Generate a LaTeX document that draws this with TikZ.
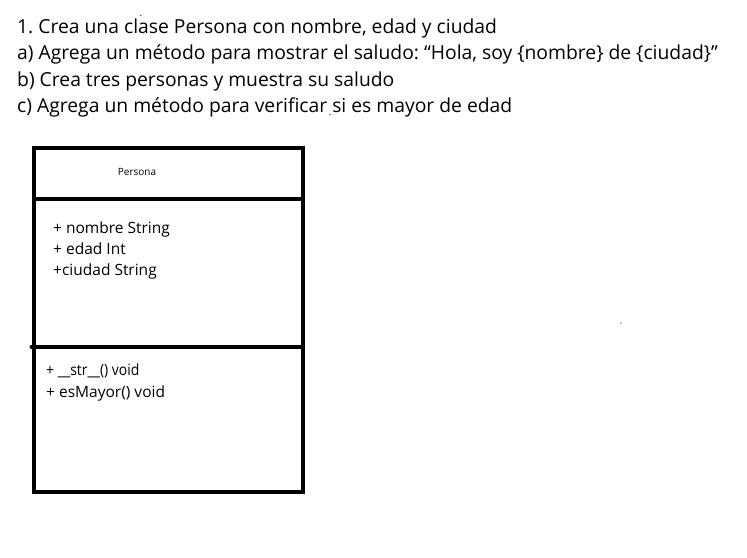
\documentclass[tikz,border=0pt]{standalone}
\usepackage{fontspec}
\setmainfont{Open Sans}
\frenchspacing
\newcommand{\straydot}[1]{\rlap{\raisebox{#1}{\kern1.5pt\scalebox{0.5}{.}}}}
\begin{document}
\begin{tikzpicture}[x=1pt,y=-1pt,
  head/.style={anchor=base west,inner sep=0pt,font=\fontsize{19.3}{23}\selectfont},
  attr/.style={anchor=base west,inner sep=0pt,font=\fontsize{15.5}{18}\selectfont},
  umlline/.style={line width=4pt,line cap=rect}]
\useasboundingbox[fill=white] (0,0) rectangle (747,557);
% statement
\node[head] (l1) at (17,33) {1. Crea una cl\straydot{17pt}ase Persona con nombre, edad y ciudad};
\node[head] (l2) at (17,59.5) {a) Agrega un método para mostrar el saludo: “Hola, soy \{nombre\} de \{ciudad\}”};
\node[head] (l3) at (17,86) {b) Crea tres personas y muestra su saludo};
\node[head] (l4) at (17,112) {c) Agrega un método para verificar\straydot{-3pt} si es mayor de edad};
% class box
\coordinate (tl) at (34,148);
\coordinate (br) at (303,492);
\draw[umlline] (tl) rectangle (br);
\coordinate (d1l) at (34,199); \coordinate (d1r) at (303,199);
\coordinate (d2l) at (34,347); \coordinate (d2r) at (303,347);
\draw[umlline] (d1l) -- (d1r);
\draw[umlline] (d2l) -- (d2r);
\fill (31.5,347) circle (2);
\node[anchor=base,inner sep=0pt,font=\fontsize{10}{12}\selectfont] (cls) at (137,175) {Persona};
\node[attr] (a1) at (53,233) {+ nombre String};
\node[attr] (a2) at (53,254) {+ edad Int};
\node[attr] (a3) at (53,275) {+ciudad String};
\node[attr] (m1) at (46,375) {\scalebox{0.9}[1]{+ \_\_str\_\_() void}};
\node[attr] (m2) at (46,397) {+ esMayor() void};
% stray mark
\fill[gray] (621,323) circle (0.8);
\end{tikzpicture}
\end{document}
